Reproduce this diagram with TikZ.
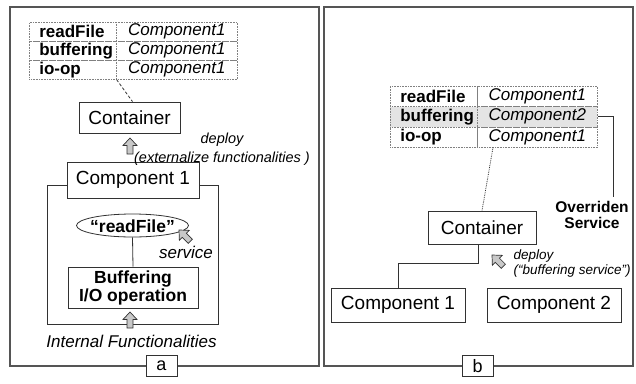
\documentclass[tikz,border=0pt]{standalone}
\usepackage{fontspec}
\setmainfont{Liberation Sans}
\usetikzlibrary{shapes.geometric}

\definecolor{containerSketchLine}{RGB}{50,50,50}
\definecolor{containerSketchFrame}{RGB}{85,85,85}
\definecolor{containerSketchArrowFill}{RGB}{200,200,200}
\definecolor{containerSketchShade}{RGB}{228,228,228}
\tikzset{containerSketchBox/.style={
    font=\fontsize{19}{22}\selectfont,
    draw=containerSketchLine,
    fill=white,
    line width=0.8pt,
    inner sep=0pt,
  }
}
\tikzset{containerSketchKey/.style={
    font=\fontsize{17}{20}\selectfont\bfseries,
    draw=gray,
    densely dotted,
    line width=0.6pt,
    anchor=north west,
    text width=67pt,
    align=left,
    inner xsep=10pt,
    inner ysep=0pt,
    minimum height=19pt,
  }
}
\tikzset{containerSketchValue/.style={
    font=\fontsize{17}{20}\selectfont\itshape,
    draw=gray,
    densely dotted,
    line width=0.6pt,
    anchor=north west,
    inner sep=0pt,
    minimum width=121pt,
    minimum height=19pt,
  }
}
\tikzset{containerSketchLink/.style={
    draw=containerSketchLine,
    line width=0.8pt,
  }
}
\tikzset{containerSketchPanel/.style={
    draw=containerSketchFrame,
    line width=1.2pt,
  }
}
\tikzset{containerSketchFatArrow/.pic={
    \draw[fill=containerSketchArrowFill, draw=containerSketchLine,
      line width=0.7pt, line join=miter]
      (0,0) -- (7,7.5) -- (3,7.5) -- (3,16) -- (-3,16) -- (-3,7.5)
      -- (-7,7.5) -- cycle;
  }
}
\newcommand{\containerSketchDrawLeft}{
  \node [containerSketchKey] (tabA11) at (29,22) {readFile};
  \node [containerSketchValue] (tabA12) at (116,22) {Component1};
  \node [containerSketchKey] (tabA21) at (29,41) {buffering};
  \node [containerSketchValue] (tabA22) at (116,41) {Component1};
  \node [containerSketchKey] (tabA31) at (29,60) {io-op};
  \node [containerSketchValue] (tabA32) at (116,60) {Component1};
  \node [containerSketchBox, minimum width=101pt, minimum height=31pt] (contA)
  at (129.5,117.5) {Container};
  \node [draw=containerSketchLine, line width=0.8pt, minimum width=171pt,
    minimum height=139pt] (compAFrame) at (132.5,254.5) {};
  \node [containerSketchBox, minimum width=132pt, minimum height=36pt] (compA)
  at (133,180) {Component 1};
  \node [ellipse, draw=containerSketchLine, line width=0.8pt, inner sep=0pt,
    minimum width=112pt, minimum height=23pt] (readA)
  at (132.5,225.5) {};
  \node [font=\fontsize{17.5}{20}\selectfont\bfseries, inner sep=0pt] (readAText)
  at ([yshift=-1pt]readA.center) {``readFile''};
  \node [containerSketchBox, minimum width=130pt, minimum height=41pt,
    align=center, font=\fontsize{17.5}{18}\selectfont\bfseries] (bufA)
  at (133,287.5) {Buffering\\I/O operation};
  \node [font=\fontsize{17}{20}\selectfont\itshape] (servA)
  at (186,252) {service};
  \node [font=\fontsize{17}{20}\selectfont\itshape] (intA)
  at (131.5,341) {Internal Functionalities};
  \node [font=\fontsize{14.5}{19}\selectfont\itshape, align=center] (deployA)
  at (222,149.5) {deploy\\(externalize functionalities )};
}
\newcommand{\containerSketchDrawRight}{
  \node [containerSketchKey, minimum height=20.3pt] (tabB11)
  at (390,86) {readFile};
  \node [containerSketchValue, minimum width=120pt, minimum height=20.3pt] (tabB12)
  at (477,86) {Component1};
  \node [containerSketchKey, minimum height=20.3pt, fill=containerSketchShade] (tabB21)
  at (390,106.3) {buffering};
  \node [containerSketchValue, minimum width=120pt, minimum height=20.3pt,
    fill=containerSketchShade] (tabB22)
  at (477,106.3) {Component2};
  \node [containerSketchKey, minimum height=20.3pt] (tabB31)
  at (390,126.6) {io-op};
  \node [containerSketchValue, minimum width=120pt, minimum height=20.3pt] (tabB32)
  at (477,126.6) {Component1};
  \node [containerSketchBox, minimum width=108pt, minimum height=33pt] (contB)
  at (482,227.5) {Container};
  \node [containerSketchBox, minimum width=134pt, minimum height=34pt] (compB1)
  at (398,305) {Component 1};
  \node [containerSketchBox, minimum width=134pt, minimum height=34pt] (compB2)
  at (554,305) {Component 2};
  \node [font=\fontsize{15.5}{16}\selectfont\bfseries, align=center] (ovrB)
  at (592,215) {Overriden\\Service};
  \coordinate (ovrTop) at (613,197);
  \node [font=\fontsize{13.5}{15}\selectfont\itshape, align=left, anchor=west]
  (deployB) at (510,264) {deploy\\(``buffering service'')};
}
\newcommand{\containerSketchConnect}{
  \draw[containerSketchLink, dash pattern=on 3pt off 2pt]
  (tabA31.south east) to ([xshift=3pt]contA.north);
  \draw[containerSketchLink] (readA.south) to (bufA.north);
  \draw[containerSketchLink, densely dotted]
  ([xshift=16pt]tabB32.south west) to (contB.north);
  \draw[containerSketchLink] (tabB22.east) -| (ovrTop);
  \draw[containerSketchLink] ([xshift=-4pt]contB.south) -- ++(0,19)
  -| (compB1.north);
}

\begin{document}
\begin{tikzpicture}[x=1pt, y=-1pt]
  \useasboundingbox (0,0) rectangle (636,383);
  \draw[containerSketchPanel] (10,7) rectangle (319,366);
  \draw[containerSketchPanel] (324,7) rectangle (633,366);
  \containerSketchDrawLeft
  \containerSketchDrawRight
  \containerSketchConnect

  \pic at (130,138) {containerSketchFatArrow};
  \pic at (130,312) {containerSketchFatArrow};
  \pic [rotate=45] at (179,230) {containerSketchFatArrow};
  \pic [rotate=45] at (492,255) {containerSketchFatArrow};

  \node [containerSketchBox, font=\fontsize{18}{20}\selectfont,
    minimum width=31pt, minimum height=21pt] (labA) at (161.5,366) {a};
  \node [containerSketchBox, font=\fontsize{18}{20}\selectfont,
    minimum width=31pt, minimum height=21pt] (labB) at (477.5,366) {b};
\end{tikzpicture}
\end{document}
